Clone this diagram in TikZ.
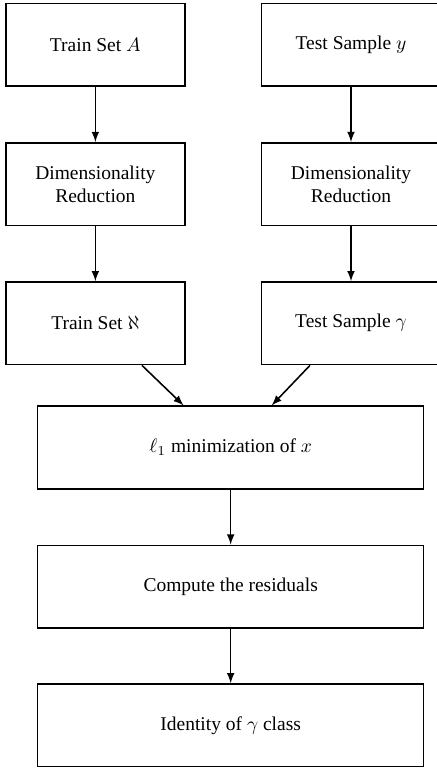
\documentclass[tikz,border=0pt]{standalone}
\usepackage{fontspec}
\setmainfont{Liberation Serif}
\usetikzlibrary{arrows}
\tikzset{
	stage/.style={draw, thick, minimum width=3.23cm, minimum height=1.49cm, align=center},
	widestage/.style={stage, minimum width=6.96cm},
	flow/.style={->, >=latex, thick}
}
\begin{document}
\begin{tikzpicture}
		\useasboundingbox (0, 0) rectangle (7.88, -13.85);
		\node[stage] (trA) at (1.72, -0.81) {Train Set $A$};
		\node[stage] (tsy) at (6.33, -0.81) {Test Sample $y$};
		\node[stage] (drL) at (1.72, -3.32) {Dimensionality\\Reduction};
		\node[stage] (drR) at (6.33, -3.32) {Dimensionality\\Reduction};
		\node[stage] (trAleph) at (1.72, -5.83) {Train Set $\aleph$};
		\node[stage] (tsg) at (6.33, -5.83) {Test Sample $\gamma$};
		\node[widestage] (lmin) at (4.16, -8.07) {$\ell_1$ minimization of $x$};
		\node[widestage] (res) at (4.16, -10.58) {Compute the residuals};
		\node[widestage] (ident) at (4.16, -13.08) {Identity of $\gamma$ class};

		\path (trA) edge[flow] (drL)
		(drL) edge[flow] (trAleph)
		(tsy) edge[flow] (drR)
		(drR) edge[flow] (tsg)
		(lmin) edge[flow] (res)
		(res) edge[flow] (ident);
		\draw[flow] ([xshift=0.84cm]trAleph.south) -- ([xshift=-0.85cm]lmin.north);
		\draw[flow] ([xshift=-0.74cm]tsg.south) -- ([xshift=0.74cm]lmin.north);
	\end{tikzpicture}
\end{document}
